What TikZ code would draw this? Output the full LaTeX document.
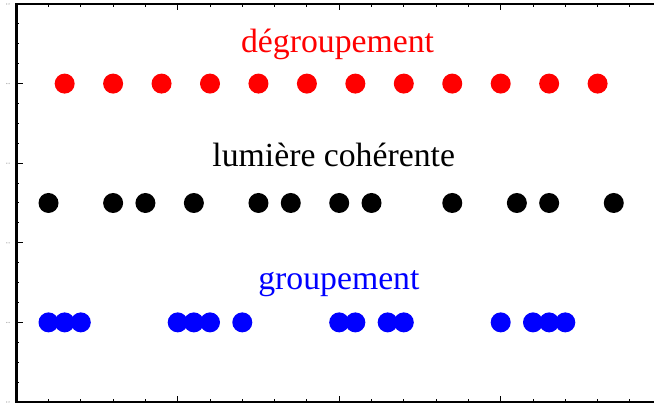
\documentclass[tikz,border=0pt]{standalone}
\usepackage{fontspec}
\setmainfont{Liberation Serif}
\usepackage{xcolor}
\usepackage{tikz}
\usetikzlibrary{positioning}
\definecolor{degroup}{HTML}{FF0000}
\definecolor{coher}{HTML}{000000}
\definecolor{group}{HTML}{0000FF}
\definecolor{mute}{HTML}{9A9A9A}
\tikzset{
  photon/.style  ={circle, inner sep=0pt, minimum size=0.5cm, draw=none},
  photonr/.style ={photon, fill=degroup},
  photonk/.style ={photon, fill=coher},
  photonb/.style ={photon, fill=group},
  rowlabel/.style={anchor=base, inner sep=0pt, font=\fontsize{24}{28}\selectfont},
  frame/.style   ={line width=2.1pt, line join=miter},
  tick/.style    ={line width=0.7pt}
}

\begin{document}
\begin{tikzpicture}[x=0.8075cm, y=0.4975cm]
  \useasboundingbox (-0.502,-0.201) rectangle (19.746,20.201);

  % axes box
  \draw[frame] (19.9,20) -- (0,20) -- (0,0) -- (19.9,0);
  \foreach \t in {1,...,19} {
    \draw[tick] (\t,0)  -- ++(0,2.2pt);
    \draw[tick] (\t,20) -- ++(0,-2.2pt);
  }
  \foreach \t in {5,10,15} {
    \draw[tick] (\t,0)  -- ++(0,4.5pt);
    \draw[tick] (\t,20) -- ++(0,-4.5pt);
  }
  \foreach \s in {1,...,19}
    \draw[tick] (0,\s) -- ++(2.2pt,0);
  \foreach \s in {4,8,12,16}
    \draw[tick] (0,\s) -- ++(4.5pt,0);
  \foreach \s in {0,4,...,20} {
    \fill[mute] (-0.29,\s) circle (0.45pt);
    \fill[mute] (-0.22,\s) circle (0.45pt);
  }

  % photons
  \foreach \t [count=\i] in {1.5,3,...,18}
    \node[photonr] (deg-\i) at (\t,16) {};
  \foreach \t [count=\i] in {1,3,4,5.5,7.5,8.5,10,11,13.5,15.5,16.5,18.5}
    \node[photonk] (coh-\i) at (\t,10) {};
  \foreach \t [count=\i] in {1,1.5,2,5,5.5,6,7,10,10.5,11.5,12,15,16,16.5,17}
    \node[photonb] (grp-\i) at (\t,4) {};

  \node[rowlabel, text=degroup] (lbl-deg) at (9.95,17.54) {dégroupement};
  \node[rowlabel, text=coher]   (lbl-coh) at (9.83,11.81) {lumière cohérente};
  \node[rowlabel, text=group]   (lbl-grp) at (9.99,5.63)  {groupement};
\end{tikzpicture}
\end{document}
